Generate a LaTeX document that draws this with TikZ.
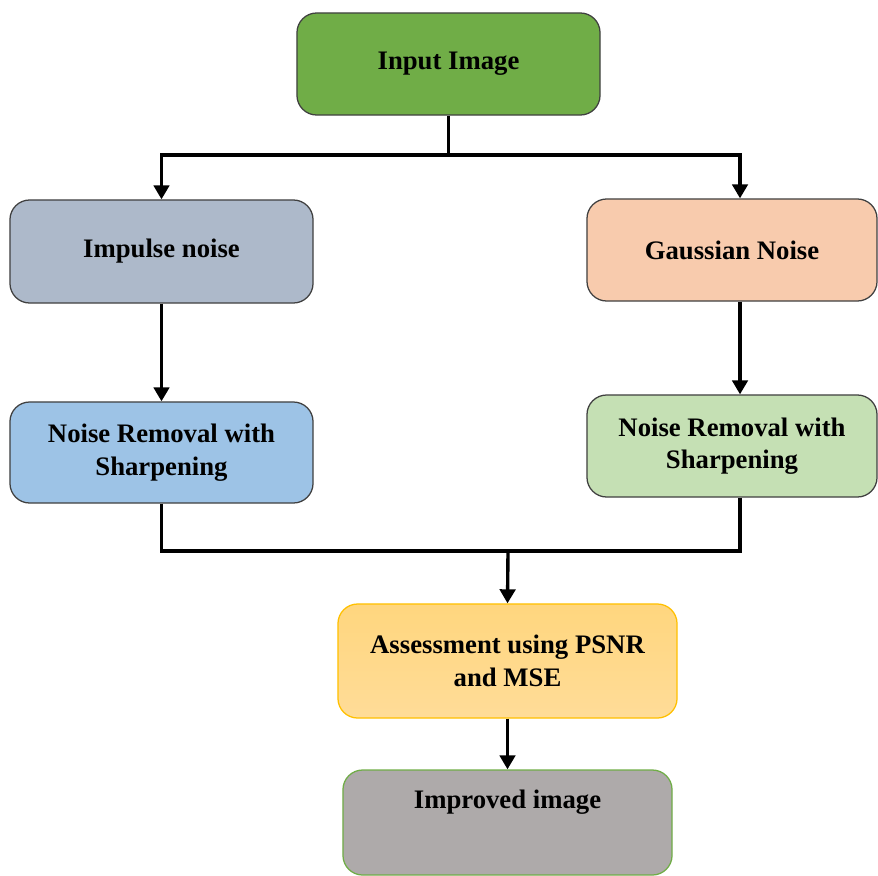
\documentclass[tikz,border=0pt]{standalone}
\usepackage{fontspec}
\setmainfont{Liberation Serif}
\usetikzlibrary{arrows.meta,shadings}
\definecolor{ingreen}{HTML}{70AD47}
\definecolor{impgray}{HTML}{ADB9CA}
\definecolor{gaupeach}{HTML}{F8CBAD}
\definecolor{nrblue}{HTML}{9DC3E6}
\definecolor{nrgreen}{HTML}{C5E0B4}
\definecolor{asborder}{HTML}{FFC000}
\definecolor{astop}{HTML}{FFD67E}
\definecolor{asbot}{HTML}{FFDC98}
\definecolor{outgray}{HTML}{AEAAAA}
\begin{document}
\begin{tikzpicture}[x=0.025cm, y=-0.025cm,
    box/.style={draw=black!75, line width=0.9pt, rounded corners=14pt, align=center,
        font=\fontsize{19}{23}\selectfont\bfseries},
    wire/.style={line width=2.4pt, line join=miter},
    arr/.style={wire, -{Triangle[width=11pt,length=10pt]}}]
            \useasboundingbox (0,0) rectangle (878,875);
            \def \w {7.575cm}
            \def \wr {7.25cm}
            \node[box, fill=ingreen, minimum width=\w, minimum height=2.55cm] (in) at (448.5,64) {Input Image};
            \node[box, fill=impgray, minimum width=\w, minimum height=2.575cm] (imp) at (161.5,251.5) {Impulse noise};
            \node[box, fill=gaupeach, minimum width=\wr, minimum height=2.55cm] (gau) at (732,250) {Gaussian Noise};
            \node[box, fill=nrblue, minimum width=\w, minimum height=2.525cm] (nrl) at (161.5,452.5) {Noise Removal with\\Sharpening};
            \node[box, fill=nrgreen, minimum width=\wr, minimum height=2.55cm] (nrr) at (732,446) {Noise Removal with\\Sharpening};
            \node[box, draw=asborder, top color=astop, bottom color=asbot, minimum width=8.475cm, minimum height=2.85cm] (as) at (507.5,661) {Assessment using PSNR\\and MSE};
            \node[box, draw=ingreen, fill=outgray, minimum width=8.225cm, minimum height=2.625cm,
                text height=14pt, text depth=34pt] (out) at (507.5,822.5) {Improved image};
            \coordinate (b) at (448.5,155);
            \coordinate (m) at (508,551);
            \draw[wire] (in.south) -- (b);
            \draw[arr] (b) -| (imp.north);
            \draw[arr] (b) -| ([xshift=0.2cm]gau.north);
            \draw[arr] (imp) -- (nrl);
            \draw[arr] ([xshift=0.2cm]gau.south) -- ([xshift=0.2cm]nrr.north);
            \draw[wire] (nrl.south) |- (m);
            \draw[wire] ([xshift=0.2cm]nrr.south) |- (m);
            \draw[arr] (m) -- (as.north);
            \draw[arr] (as) -- (out);
        \end{tikzpicture}
\end{document}
